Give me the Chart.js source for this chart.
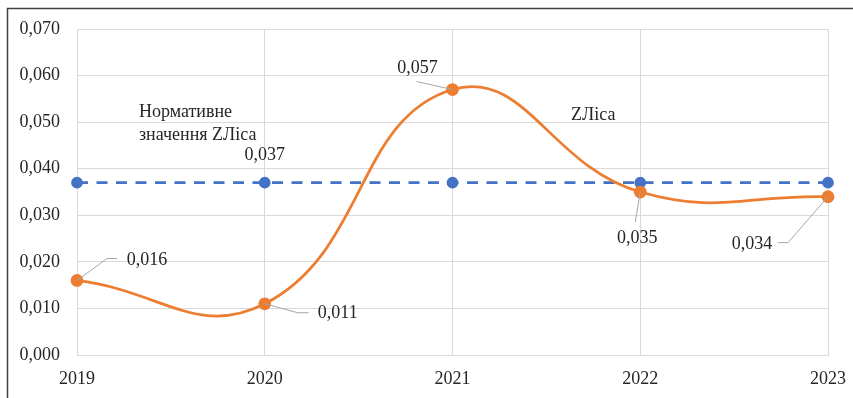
<!DOCTYPE html>
<html>
<head>
<meta charset="utf-8">
<script src="https://cdn.jsdelivr.net/npm/chart.js@4/dist/chart.umd.min.js"></script>
<style>
  html, body { margin: 0; padding: 0; background: #fff; }
  #wrap { width: 853px; height: 398px; position: relative; }
</style>
</head>
<body>
<div id="wrap"><canvas id="chart"></canvas></div>
<script>
// Years on the horizontal axis
const years = ['2019', '2020', '2021', '2022', '2023'];
// Actual coefficient values
const zLisa = [0.016, 0.011, 0.057, 0.035, 0.034];
// Normative level of the coefficient
const normative = [0.037, 0.037, 0.037, 0.037, 0.037];
// Series names
const seriesActual = 'ZЛіса';
const seriesNormLines = ['Нормативне', 'значення ZЛіса'];

const FONT = '"Liberation Serif", "Times New Roman", serif';
const TEXT = '#262626';
const fmt = v => v.toFixed(3).replace('.', ',');

// Label placement for each value of the actual series: text centre offset and leader path
const actualLabelStyle = [
  { dx: 70, dy: -20, lead: [[30, -22], [40, -22]] },
  { dx: 73, dy: 9,  lead: [[33, 9], [44, 9]] },
  { dx: -35, dy: -21, lead: [[-36, -8]] },
  { dx: -3, dy: 46, lead: [[-5, 30]] },
  { dx: -76, dy: 48, lead: [[-40, 46], [-50, 46]] }
];

const labelsPlugin = {
  id: 'valueLabels',
  afterDatasetsDraw(chart) {
    const ctx = chart.ctx;
    const xs = chart.scales.x, ys = chart.scales.y;
    ctx.save();
    ctx.font = '18px ' + FONT;
    ctx.fillStyle = TEXT;
    ctx.textAlign = 'center';
    ctx.textBaseline = 'middle';
    // actual series labels with leader lines
    zLisa.forEach((v, i) => {
      const px = xs.getPixelForValue(i), py = ys.getPixelForValue(v);
      const st = actualLabelStyle[i];
      ctx.strokeStyle = '#a6a6a6';
      ctx.lineWidth = 1;
      ctx.beginPath();
      ctx.moveTo(px, py);
      st.lead.forEach(p => ctx.lineTo(px + p[0], py + p[1]));
      ctx.stroke();
      ctx.fillText(fmt(v), px + st.dx, py + st.dy);
    });
    // normative value label
    const nx = xs.getPixelForValue(1), ny = ys.getPixelForValue(normative[1]);
    ctx.fillText(fmt(normative[1]), nx, ny - 27);
    // series names
    ctx.fillText(seriesActual, xs.getPixelForValue(2.75), ys.getPixelForValue(0.0515));
    ctx.textAlign = 'left';
    ctx.fillText(seriesNormLines[0], xs.getPixelForValue(0.33), ys.getPixelForValue(0.0521));
    ctx.fillText(seriesNormLines[1], xs.getPixelForValue(0.33), ys.getPixelForValue(0.0471));
    ctx.restore();
  },
  afterDraw(chart) {
    // outer frame (left and top edges)
    const ctx = chart.ctx;
    ctx.save();
    ctx.strokeStyle = '#404040';
    ctx.lineWidth = 1.5;
    ctx.beginPath();
    ctx.moveTo(7.5, chart.height);
    ctx.lineTo(7.5, 8.5);
    ctx.lineTo(chart.width, 8.5);
    ctx.stroke();
    ctx.restore();
  }
};

new Chart(document.getElementById('chart'), {
  type: 'line',
  data: {
    labels: years,
    datasets: [
      {
        label: seriesActual,
        data: zLisa,
        borderColor: '#ED7D31',
        backgroundColor: '#ED7D31',
        borderWidth: 2.75,
        pointRadius: 5,
        pointHoverRadius: 5,
        tension: 0.45,
        order: 0
      },
      {
        label: seriesNormLines.join(' '),
        data: normative,
        borderColor: '#4472C4',
        backgroundColor: '#4472C4',
        borderWidth: 2.75,
        borderDash: [11, 8.5],
        pointRadius: 4.5,
        pointHoverRadius: 4.5,
        tension: 0,
        order: 1
      }
    ]
  },
  options: {
    responsive: true,
    maintainAspectRatio: false,
    animation: false,
    layout: { padding: { left: 0, top: 29, right: 25, bottom: 0 } },
    plugins: {
      legend: { display: false },
      tooltip: { enabled: false }
    },
    scales: {
      x: {
        offset: false,
        grid: { color: '#d9d9d9', drawTicks: false, lineWidth: 1 },
        border: { color: '#d9d9d9' },
        ticks: { color: TEXT, font: { family: FONT, size: 18 }, padding: 13, maxRotation: 0 },
        afterFit(s) { s.height = 43; s.paddingLeft = 0; s.paddingRight = 0; }
      },
      y: {
        min: 0,
        max: 0.07,
        grid: { color: '#d9d9d9', drawTicks: false, lineWidth: 1 },
        border: { color: '#d9d9d9' },
        ticks: {
          stepSize: 0.01,
          color: TEXT,
          font: { family: FONT, size: 18 },
          padding: 17,
          callback: v => fmt(v)
        },
        afterFit(s) { s.width = 77; s.paddingTop = 0; s.paddingBottom = 0; }
      }
    }
  },
  plugins: [labelsPlugin]
});
</script>
</body>
</html>
